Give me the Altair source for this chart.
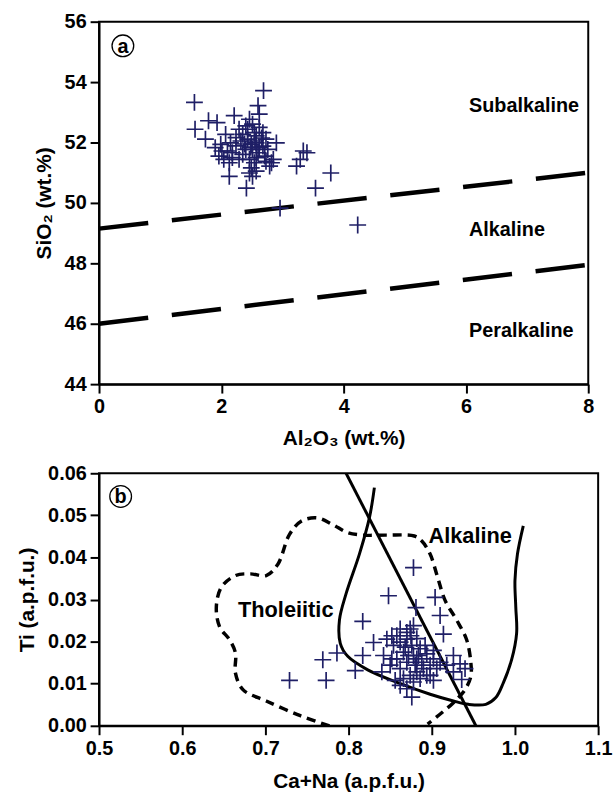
import altair as alt
import pandas as pd

FONT = "Liberation Sans"
NAVY = "#1f1f66"
CROSS = "M-1,0H1M0,-1V1"

# ---------------- Panel a data ----------------
al2o3 = [1.56, 4.23, 2.69, 2.60, 2.62, 1.57, 1.74, 1.79, 1.93, 2.21, 2.90, 3.34, 3.40, 3.23, 3.29,
         3.79, 3.54, 2.41, 2.13, 2.96, 2.51, 2.57, 2.82, 2.85, 2.79, 1.96, 1.99, 1.90, 2.07, 2.29,
         2.40, 2.46, 2.51, 2.54, 2.68, 2.73, 2.76, 2.71, 2.57, 2.46, 2.35, 2.24, 2.18, 2.10, 2.04,
         2.13, 2.29, 2.40, 2.49, 2.57, 2.62, 2.60, 2.51, 2.43, 2.35, 2.24, 2.15, 2.54, 2.49, 2.46,
         2.73, 2.68, 2.43, 2.32, 2.57, 2.62, 2.18, 2.01, 2.55, 2.48, 2.38, 2.66]
sio2 = [53.33, 49.27, 53.72, 53.22, 52.94, 52.44, 52.11, 52.72, 52.66, 52.89, 51.99, 51.72, 51.66,
        51.22, 51.44, 50.99, 50.49, 50.49, 50.88, 49.83, 50.88, 51.05, 51.33, 51.44, 51.22, 51.55,
        51.94, 51.83, 52.27, 52.44, 52.55, 52.77, 52.61, 52.33, 52.33, 52.11, 51.77, 51.55, 51.50,
        51.44, 51.61, 51.89, 51.66, 51.72, 51.44, 51.33, 51.44, 51.77, 51.94, 51.99, 51.83, 51.66,
        51.77, 52.11, 52.27, 52.16, 51.99, 51.33, 51.16, 50.99, 51.38, 51.88, 52.44, 52.05, 52.22,
        52.50, 51.50, 51.72, 52.05, 51.85, 51.95, 52.15]

a_line_x = [0, 8]
a_upper_y = [49.15, 51.0]
a_lower_y = [46.0, 47.95]

a_labels = ["Subalkaline", "Alkaline", "Peralkaline"]
a_label_x = [6.05, 6.05, 6.05]
a_label_y = [53.2, 49.1, 45.75]

# ---------------- Panel b data ----------------
ca_na = [0.729, 0.773, 0.769, 0.786, 0.817, 0.817, 0.808, 0.830, 0.848, 0.878, 0.881, 0.904, 0.910,
         0.914, 0.926, 0.934, 0.936, 0.876, 0.852, 0.874, 0.846, 0.854, 0.862, 0.870, 0.878, 0.882,
         0.866, 0.858, 0.850, 0.840, 0.862, 0.870, 0.878, 0.886, 0.894, 0.902, 0.898, 0.890, 0.882,
         0.874, 0.866, 0.856, 0.878, 0.886, 0.898, 0.906, 0.910, 0.918, 0.926, 0.858, 0.868, 0.876,
         0.884, 0.892, 0.862, 0.852, 0.872, 0.880, 0.888, 0.902, 0.842, 0.870, 0.894, 0.902, 0.870,
         0.882, 0.875, 0.862, 0.940]
ti = [0.0108, 0.0108, 0.0157, 0.0173, 0.0248, 0.0167, 0.0131, 0.0198, 0.0309, 0.0376, 0.0281, 0.0305,
      0.0262, 0.0218, 0.0167, 0.0147, 0.0110, 0.0068, 0.0214, 0.0230, 0.0206, 0.0191, 0.0199, 0.0222,
      0.0238, 0.0207, 0.0175, 0.0159, 0.0144, 0.0128, 0.0136, 0.0151, 0.0167, 0.0183, 0.0171, 0.0159,
      0.0144, 0.0136, 0.0128, 0.0120, 0.0112, 0.0108, 0.0104, 0.0112, 0.0120, 0.0136, 0.0151, 0.0144,
      0.0128, 0.0214, 0.0187, 0.0191, 0.0167, 0.0191, 0.0096, 0.0159, 0.0167, 0.0144, 0.0151, 0.0179,
      0.0167, 0.0206, 0.0120, 0.0108, 0.0088, 0.0159, 0.0214, 0.0230, 0.0136]

div_x = [0.797, 0.953]
div_y = [0.060, 0.000]

alk_x = [0.831, 0.825, 0.813, 0.797, 0.789, 0.790, 0.799, 0.823, 0.860, 0.898, 0.926, 0.944,
         0.965, 0.977, 0.986, 0.996, 1.002, 1.001, 1.000, 1.003, 1.010]
alk_y = [0.0566, 0.0494, 0.0408, 0.0314, 0.0251, 0.0196, 0.0165, 0.0133, 0.0102, 0.0075, 0.0059,
         0.0051, 0.0051, 0.0067, 0.0102, 0.0157, 0.0220, 0.0282, 0.0345, 0.0408, 0.0475]

thol_x = [0.777, 0.742, 0.701, 0.673, 0.664, 0.664, 0.657, 0.645, 0.641, 0.647, 0.664, 0.682,
          0.701, 0.715, 0.729, 0.743, 0.762, 0.781, 0.799, 0.818, 0.846, 0.879, 0.888, 0.898,
          0.907, 0.916, 0.930, 0.942, 0.947, 0.947, 0.940, 0.926, 0.912, 0.895]
thol_y = [0.0000, 0.0024, 0.0059, 0.0086, 0.0125, 0.0173, 0.0204, 0.0235, 0.0282, 0.0329, 0.0357,
          0.0361, 0.0357, 0.0384, 0.0455, 0.0486, 0.0494, 0.0478, 0.0459, 0.0453, 0.0453, 0.0451,
          0.0439, 0.0408, 0.0353, 0.0298, 0.0251, 0.0204, 0.0149, 0.0118, 0.0086, 0.0055, 0.0031,
          0.0004]

b_labels = ["Alkaline", "Tholeiitic"]
b_label_x = [0.896, 0.667]
b_label_y = [0.0451, 0.0276]

# ---------------- Panel a ----------------
xa = alt.Scale(domain=[0, 8], nice=False)
ya = alt.Scale(domain=[44, 56], nice=False)
xa_axis = alt.Axis(values=[0, 2, 4, 6, 8], format="d", title="Al₂O₃ (wt.%)", titlePadding=11)
ya_axis = alt.Axis(values=[44, 46, 48, 50, 52, 54, 56], format="d", title="SiO₂ (wt.%)")

lines_a = pd.DataFrame({
    "al": a_line_x + a_line_x,
    "si": a_upper_y + a_lower_y,
    "g": ["upper"] * 2 + ["lower"] * 2,
})
pts_a = pd.DataFrame({"al": al2o3, "si": sio2})
lab_a = pd.DataFrame({"al": a_label_x, "si": a_label_y, "t": a_labels})
tag_a = pd.DataFrame({"al": [0.39], "si": [55.2], "t": ["a"]})

XA = alt.X("al:Q", scale=xa, axis=xa_axis)
YA = alt.Y("si:Q", scale=ya, axis=ya_axis)

la = alt.Chart(lines_a).mark_line(color="black", strokeWidth=4.5, strokeDash=[50, 24]).encode(
    x=XA, y=YA, detail="g:N")
pa = alt.Chart(pts_a).mark_point(shape=CROSS, filled=False, stroke=NAVY, strokeWidth=1.7,
                                  size=289, opacity=1).encode(x=XA, y=YA)
ta = alt.Chart(lab_a).mark_text(align="left", baseline="middle", font=FONT, fontSize=20,
                                 fontWeight="bold", color="black").encode(x=XA, y=YA, text="t:N")
ca = alt.Chart(tag_a).mark_point(shape="circle", filled=False, stroke="black", strokeWidth=1.3,
                                  size=480, opacity=1).encode(x=XA, y=YA)
cta = alt.Chart(tag_a).mark_text(align="center", baseline="middle", font=FONT, fontSize=20,
                                  fontWeight="bold", color="black", dy=1).encode(x=XA, y=YA, text="t:N")

panel_a = alt.layer(la, pa, ta, ca, cta).properties(width=494, height=366)

# ---------------- Panel b ----------------
xb = alt.Scale(domain=[0.5, 1.1], nice=False)
yb = alt.Scale(domain=[0.0, 0.06], nice=False)
xb_axis = alt.Axis(values=[0.5, 0.6, 0.7, 0.8, 0.9, 1.0, 1.1], format=".1f", title="Ca+Na (a.p.f.u.)",
                   titlePadding=12)
yb_axis = alt.Axis(values=[0.0, 0.01, 0.02, 0.03, 0.04, 0.05, 0.06], format=".2f", title="Ti (a.p.f.u.)")

XB = alt.X("cn:Q", scale=xb, axis=xb_axis)
YB = alt.Y("ti:Q", scale=yb, axis=yb_axis)

div_df = pd.DataFrame({"cn": div_x, "ti": div_y})
alk_df = pd.DataFrame({"cn": alk_x, "ti": alk_y, "i": list(range(len(alk_x)))})
thol_df = pd.DataFrame({"cn": thol_x, "ti": thol_y, "i": list(range(len(thol_x)))})
pts_b = pd.DataFrame({"cn": ca_na, "ti": ti})
lab_b = pd.DataFrame({"cn": b_label_x, "ti": b_label_y, "t": b_labels})
tag_b = pd.DataFrame({"cn": [0.526], "ti": [0.0545], "t": ["b"]})

thol = alt.Chart(thol_df).mark_line(color="black", strokeWidth=3.5, strokeDash=[9, 6],
                                     interpolate="catmull-rom", clip=True).encode(
    x=XB, y=YB, order="i:Q")
alk = alt.Chart(alk_df).mark_line(color="black", strokeWidth=3, interpolate="catmull-rom",
                                   clip=True).encode(x=XB, y=YB, order="i:Q")
div = alt.Chart(div_df).mark_line(color="black", strokeWidth=3, clip=True).encode(x=XB, y=YB)
pb = alt.Chart(pts_b).mark_point(shape=CROSS, filled=False, stroke=NAVY, strokeWidth=1.7,
                                  size=289, opacity=1).encode(x=XB, y=YB)
tb = alt.Chart(lab_b).mark_text(align="left", baseline="middle", font=FONT, fontSize=22,
                                 fontWeight="bold", color="black").encode(x=XB, y=YB, text="t:N")
cb = alt.Chart(tag_b).mark_point(shape="circle", filled=False, stroke="black", strokeWidth=1.3,
                                  size=480, opacity=1).encode(x=XB, y=YB)
ctb = alt.Chart(tag_b).mark_text(align="center", baseline="middle", font=FONT, fontSize=20,
                                  fontWeight="bold", color="black", dy=1).encode(x=XB, y=YB, text="t:N")

panel_b = alt.layer(thol, alk, div, pb, tb, cb, ctb).properties(width=504, height=255)

chart = alt.vconcat(panel_a, panel_b, spacing=13).properties(
    padding={"left": 16, "top": 7, "right": 0, "bottom": 2}
).configure_axis(
    labelFont=FONT, labelFontSize=20, labelFontWeight="bold", labelColor="black",
    titleFont=FONT, titleFontSize=21, titleFontWeight="bold", titleColor="black",
    domainColor="black", domainWidth=2, tickColor="black", tickWidth=2, tickSize=9,
    grid=False, labelPadding=4, titlePadding=10, labelFlush=False, labelOverlap=False,
).configure_view(
    stroke="black", strokeWidth=2
)

chart.save("out.html", embed_options={"renderer": "svg", "actions": False})
